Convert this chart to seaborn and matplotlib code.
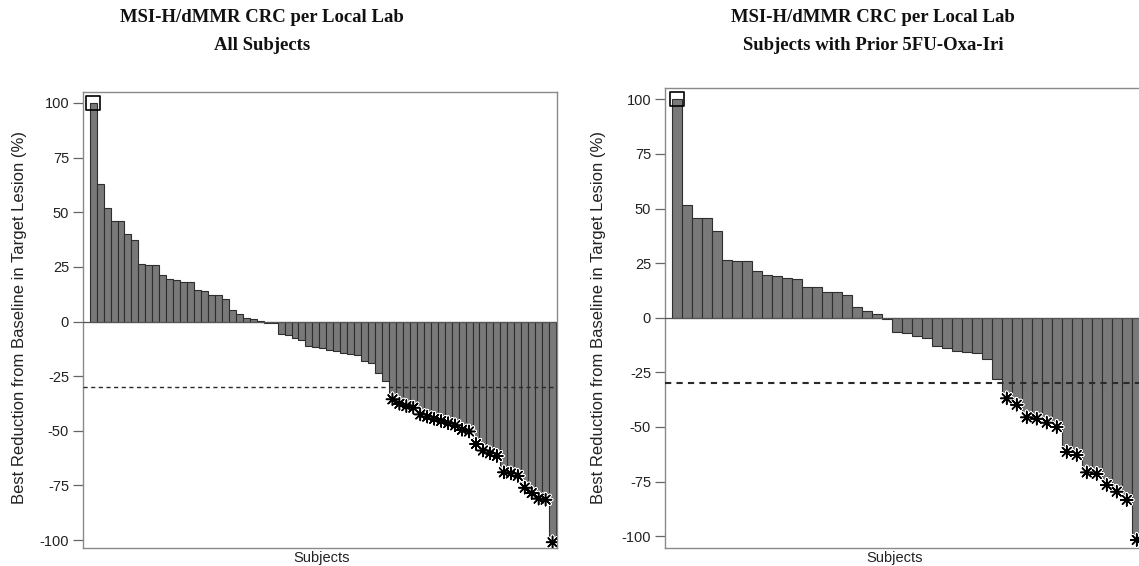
import matplotlib
matplotlib.use("Agg")
import matplotlib.pyplot as plt
import seaborn as sns
import pandas as pd
import matplotlib.patheffects as pe

# ---------------- data ----------------
left_values = [100, 63, 52, 46, 46, 40, 37.5, 26.5, 26, 26, 21.5, 19.5, 19, 18, 18,
               14.5, 14, 12.3, 12, 10.3, 5.2, 3.3, 1.8, 1.2, 0.3, -0.5, -0.8,
               -5.6, -6, -7.5, -8.4, -11, -11.6, -12, -12.8, -13.5, -14.6, -15, -15.5,
               -18, -19, -23.5, -27, -35.6, -37.6, -38.7, -39.4, -42.5, -43.5, -44.5,
               -45.5, -46.5, -47.5, -49.5, -50.3, -56, -59, -60.3, -61.5, -69, -69.5,
               -70.6, -76, -78.5, -81, -81.5, -101]
right_values = [100, 51.8, 45.8, 45.7, 39.6, 26.3, 26.1, 25.9, 21.5, 19.5, 18.9, 18.2,
                17.9, 14.3, 13.9, 11.9, 11.8, 10.3, 4.8, 3.0, 1.7, -0.5, -6.4, -7.1,
                -8.4, -9.2, -13, -14, -15, -15.6, -16.1, -19, -28.1, -36.9, -39.8,
                -45.6, -46.2, -48, -50, -61.4, -62.8, -70.8, -71.5, -76.5, -79.6,
                -83.4, -101.7]
left_square = [0]
right_square = [0]
threshold = -30
yticks = [100, 75, 50, 25, 0, -25, -50, -75, -100]
title_line1 = "MSI-H/dMMR CRC per Local Lab"
left_title2 = "All Subjects"
right_title2 = "Subjects with Prior 5FU-Oxa-Iri"
ylabel = "Best Reduction from Baseline in Target Lesion (%)"
xlabel = "Subjects"

sns.set_theme(style="white")
plt.rcParams['font.family'] = ['Liberation Sans', 'DejaVu Sans']

W, H = 1139, 566
fig = plt.figure(figsize=(W / 100, H / 100), dpi=100)

def px_axes(x0, x1, ytop, ybot):
    return fig.add_axes([x0 / W, 1 - ybot / H, (x1 - x0) / W, (ybot - ytop) / H])

ax1 = px_axes(83, 557, 92, 548)
ax2 = px_axes(665, 1145, 88, 548)

def draw(ax, values, squares, xlim, ylim, dash_lw):
    df = pd.DataFrame({"subject": list(range(len(values))), "value": values})
    sns.barplot(data=df, x="subject", y="value", ax=ax, color="#797979",
                saturation=1, width=1.0, edgecolor="#2e2e2e", linewidth=0.8,
                errorbar=None, zorder=2)
    ax.axhline(0, color="#555555", lw=0.9, zorder=3)
    ax.axhline(threshold, color="#2a2a2a", lw=dash_lw, ls=(0, (3, 2.5)), zorder=3)
    star_x = [i for i, v in enumerate(values) if v <= threshold]
    star_y = [values[i] for i in star_x]
    ax.scatter(star_x, star_y, marker=(8, 2, 0), s=75, color="black", linewidths=1.1,
               zorder=4,
               path_effects=[pe.Stroke(linewidth=2.6, foreground="white"), pe.Normal()])
    ax.scatter(squares, [values[i] for i in squares], marker="s", s=100,
               facecolors="none", edgecolors="black", linewidths=1.2, zorder=4)
    ax.set_xlim(*xlim)
    ax.set_ylim(*ylim)
    ax.set_xticks([])
    ax.set_yticks(yticks)
    ax.set_yticklabels([str(t) for t in yticks], fontsize=10.5, color="#222222")
    ax.tick_params(axis="y", left=True, length=7, width=0.9, color="#666666", pad=3)
    ax.set_xlabel("")
    ax.set_ylabel("")
    for s in ax.spines.values():
        s.set_visible(True)
        s.set_color("#8a8a8a")
        s.set_linewidth(1.0)

draw(ax1, left_values, left_square, (-1.46, 66.64), (-103.6, 105), 1.0)
draw(ax2, right_values, right_square, (-1.17, 46.83), (-105.4, 105.2), 1.5)

tfont = dict(family=["Liberation Serif", "DejaVu Serif"], fontsize=13.5, fontweight="bold",
             ha="center", va="center", color="#111111")
fig.text(262 / W, 1 - 17 / H, title_line1, **tfont)
fig.text(262 / W, 1 - 45 / H, left_title2, **tfont)
fig.text(873 / W, 1 - 17 / H, title_line1, **tfont)
fig.text(873 / W, 1 - 45 / H, right_title2, **tfont)

fig.text(20 / W, 1 - 318 / H, ylabel, rotation=90, fontsize=12, color="#222222",
         ha="center", va="center")
fig.text(599 / W, 1 - 318 / H, ylabel, rotation=90, fontsize=12, color="#222222",
         ha="center", va="center")
fig.text(322 / W, 1 - 558 / H, xlabel, fontsize=10.5, color="#222222", ha="center", va="center")
fig.text(895 / W, 1 - 558 / H, xlabel, fontsize=10.5, color="#222222", ha="center", va="center")

fig.savefig("out.png", dpi=100)
